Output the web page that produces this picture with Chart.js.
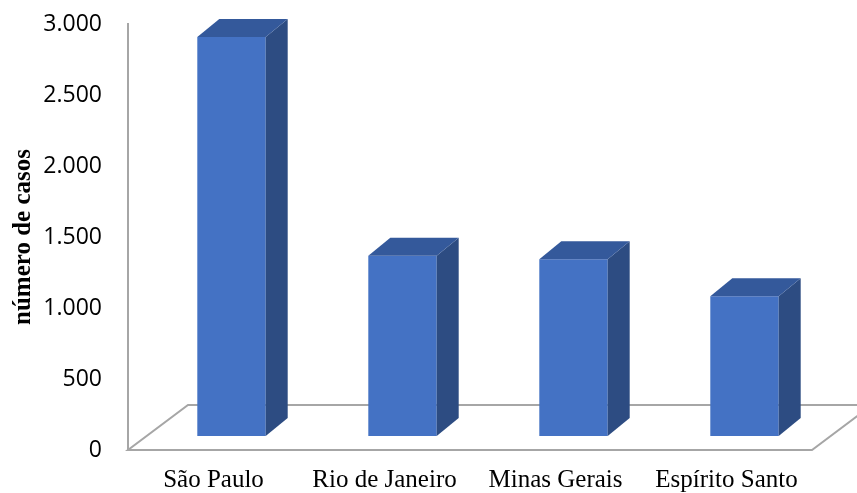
<!DOCTYPE html>
<html lang="pt-BR">
<head>
<meta charset="utf-8">
<title>número de casos</title>
<script src="https://cdn.jsdelivr.net/npm/chart.js@4"></script>
<style>
  html, body { margin: 0; padding: 0; background: #fff; }
  canvas { display: block; }
</style>
</head>
<body>
<canvas id="myChart" width="857" height="493"></canvas>
<script>
// ------------------   DATA   ----------------
const estados = ['São Paulo', 'Rio de Janeiro', 'Minas Gerais', 'Espírito Santo'];
const casos = [2810, 1270, 1245, 985];
const yTickValues = [0, 500, 1000, 1500, 2000, 2500, 3000];
const yTickLabels = ['0', '500', '1.000', '1.500', '2.000', '2.500', '3.000'];

// ------------------   STYLE   ----------------
const frontColor = '#4472C4';
const sideColor = '#2D4C82';
const topColor = '#34599B';
const floorColor = '#A6A6A6';
// where the bars sit inside the floor, and how deep they are
const barShift = { x: 18, y: -14 };
const barDepth = { x: 22, y: -18 };
const floorDepth = { x: 60, y: -45 };

// ------------   FUNCTIONS   ----------------------

// floor of the 3d chart, drawn behind the bars
const floorPlugin = {
  id: 'floor3d',
  beforeDatasetsDraw(chart) {
    const { ctx, chartArea } = chart;
    const yScale = chart.scales.y;
    const base = yScale.getPixelForValue(0);
    const left = chartArea.left;
    const right = chartArea.right;

    ctx.save();
    ctx.strokeStyle = floorColor;
    ctx.lineWidth = 2;
    ctx.beginPath();
    ctx.moveTo(left, base);
    ctx.lineTo(right, base);
    ctx.lineTo(right + floorDepth.x, base + floorDepth.y);
    ctx.lineTo(left + floorDepth.x, base + floorDepth.y);
    ctx.closePath();
    ctx.stroke();
    ctx.restore();

    // front faces are drawn by chart.js, shifted back into the floor
    ctx.save();
    ctx.translate(barShift.x, barShift.y);
  },
  afterDatasetsDraw(chart) {
    const { ctx } = chart;
    ctx.restore();

    const meta = chart.getDatasetMeta(0);
    ctx.save();
    for (let bar of meta.data) {
      const { x, y, base, width } = bar.getProps(['x', 'y', 'base', 'width'], true);
      const l = x - width / 2 + barShift.x;
      const r = x + width / 2 + barShift.x;
      const t = y + barShift.y;
      const b = base + barShift.y;

      // side face
      ctx.fillStyle = sideColor;
      ctx.beginPath();
      ctx.moveTo(r, b);
      ctx.lineTo(r + barDepth.x, b + barDepth.y);
      ctx.lineTo(r + barDepth.x, t + barDepth.y);
      ctx.lineTo(r, t);
      ctx.closePath();
      ctx.fill();

      // top face
      ctx.fillStyle = topColor;
      ctx.beginPath();
      ctx.moveTo(l, t);
      ctx.lineTo(r, t);
      ctx.lineTo(r + barDepth.x, t + barDepth.y);
      ctx.lineTo(l + barDepth.x, t + barDepth.y);
      ctx.closePath();
      ctx.fill();
    }
    ctx.restore();
  },
};

function renderChart() {
  const ctx = document.getElementById('myChart').getContext('2d');
  return new Chart(ctx, {
    type: 'bar',
    data: {
      labels: estados,
      datasets: [
        {
          label: 'número de casos',
          data: casos,
          backgroundColor: frontColor,
          borderWidth: 0,
          categoryPercentage: 1,
          barPercentage: 0.4,
        },
      ],
    },
    options: {
      responsive: false,
      animation: false,
      devicePixelRatio: 1,
      layout: { padding: { top: 24, right: 45, bottom: 0, left: 0 } },
      plugins: {
        legend: { display: false },
        tooltip: { enabled: false },
      },
      scales: {
        x: {
          grid: { display: false, drawTicks: false },
          border: { display: false },
          ticks: {
            padding: 15,
            color: '#000',
            font: { family: '"Liberation Serif", serif', size: 25 },
          },
          afterFit: (scale) => {
            scale.height = 43;
          },
        },
        y: {
          min: 0,
          max: 3000,
          afterBuildTicks: (scale) => {
            scale.ticks = yTickValues.map((v) => ({ value: v }));
          },
          // tick marks hidden, their length only spaces the labels from the axis
          grid: { display: false, drawTicks: true, tickLength: 26 },
          border: { display: true, color: floorColor, width: 2 },
          ticks: {
            padding: 0,
            color: '#000',
            font: { family: '"Open Sans", sans-serif', size: 23 },
            callback: (value, index) => yTickLabels[index],
          },
          title: {
            display: true,
            text: 'número de casos',
            color: '#000',
            padding: { top: 9, bottom: 0 },
            font: { family: '"Liberation Serif", serif', size: 25, weight: 'bold' },
          },
          afterFit: (scale) => {
            scale.width = 128;
          },
        },
      },
    },
    plugins: [floorPlugin],
  });
}
// ------------ function calls ---------------------
renderChart();
</script>
</body>
</html>
